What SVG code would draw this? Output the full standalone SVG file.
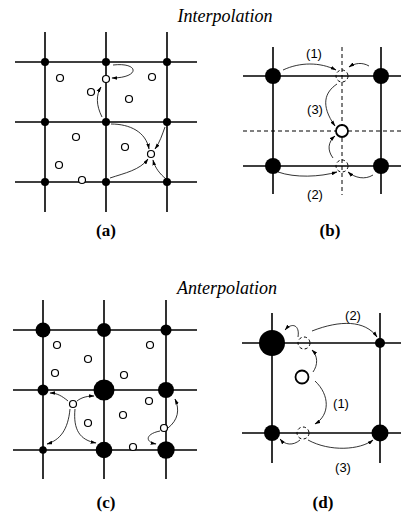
<svg xmlns="http://www.w3.org/2000/svg" width="401" height="514" viewBox="0 0 401 514">
  <style>
    .grid { stroke: #000; stroke-width: 1.6; fill: none; }
    .guide { stroke: #000; stroke-width: 1; stroke-dasharray: 4 3; fill: none; }
    .dot { fill: #000; }
    .pt { fill: #fff; stroke: #000; stroke-width: 1.2; }
    .pt2 { fill: #fff; stroke: #000; stroke-width: 1.8; }
    .ghost { fill: none; stroke: #000; stroke-width: 1; stroke-dasharray: 3 2.5; }
    .link { fill: none; stroke: #000; stroke-width: 0.8; marker-end: url(#tip); }
    .title { font-family: "Liberation Serif", "Times New Roman", serif; font-style: italic; font-size: 18px; text-anchor: middle; }
    .cap { font-family: "Liberation Serif", "Times New Roman", serif; font-weight: bold; font-size: 17px; text-anchor: middle; }
    .num { font-family: "Liberation Sans", Arial, sans-serif; font-size: 13px; text-anchor: middle; }
  </style>
  <defs>
    <marker id="tip" viewBox="0 0 10 6" refX="9" refY="3" markerWidth="6" markerHeight="4" markerUnits="userSpaceOnUse" orient="auto">
      <path d="M0,0 L10,3 L0,6 Z" fill="#000"/>
    </marker>
  </defs>

  <text class="title" x="225" y="22">Interpolation</text>
  <text class="title" x="227" y="294">Anterpolation</text>

  <!-- (a) fine grid interpolation -->
  <g id="panel-a">
    <path class="grid" d="M15,62H197M15,122H197M15,182H197M45,32V212M106,32V212M167,32V212"/>
    <g class="dot">
      <circle cx="45" cy="62" r="4"/><circle cx="106" cy="62" r="4"/><circle cx="167" cy="62" r="4"/>
      <circle cx="45" cy="122" r="4"/><circle cx="106" cy="122" r="4"/><circle cx="167" cy="122" r="4"/>
      <circle cx="45" cy="182" r="4"/><circle cx="106" cy="182" r="4"/><circle cx="167" cy="182" r="4"/>
    </g>
    <g>
      <circle class="pt" cx="60" cy="78" r="3.5"/><circle class="pt" cx="106" cy="79" r="3.5"/>
      <circle class="pt" cx="152" cy="77" r="3.5"/><circle class="pt" cx="91" cy="92" r="3.5"/>
      <circle class="pt" cx="129" cy="99" r="3.5"/><circle class="pt" cx="76" cy="137" r="3.5"/>
      <circle class="pt" cx="125" cy="147" r="3.5"/><circle class="pt" cx="151" cy="154" r="3.5"/>
      <circle class="pt" cx="59" cy="165" r="3.5"/><circle class="pt" cx="82" cy="180" r="3.5"/>
    </g>
    <text class="cap" x="106" y="236">(a)</text>
  </g>

  <!-- (b) one cell, interpolation in two steps -->
  <g id="panel-b">
    <path class="grid" d="M243,76H401M243,166H401M273,47V194M381,47V194"/>
    <path class="guide" d="M342,47V195M243,131H401"/>
    <g class="dot">
      <circle cx="273" cy="76" r="8"/><circle cx="381" cy="76" r="8"/>
      <circle cx="273" cy="166" r="8"/><circle cx="381" cy="166" r="8"/>
    </g>
    <circle class="ghost" cx="342" cy="76" r="6"/>
    <circle class="ghost" cx="342" cy="166" r="6"/>
    <circle class="pt2" cx="342" cy="131" r="6"/>
    <text class="num" x="314" y="58">(1)</text>
    <text class="num" x="315" y="114">(3)</text>
    <text class="num" x="315" y="199">(2)</text>
    <text class="cap" x="330" y="236">(b)</text>
  </g>

  <!-- (c) fine grid anterpolation -->
  <g id="panel-c">
    <path class="grid" d="M13,330H197M13,390H197M13,450H197M43,300V479M104,300V479M166,300V479"/>
    <g class="dot">
      <circle cx="43" cy="330" r="7.5"/><circle cx="104" cy="330" r="7"/><circle cx="166" cy="330" r="5.5"/>
      <circle cx="43" cy="390" r="5.5"/><circle cx="104" cy="390" r="10.5"/><circle cx="166" cy="390" r="8"/>
      <circle cx="43" cy="450" r="3.8"/><circle cx="104" cy="450" r="8.3"/><circle cx="166" cy="450" r="8.7"/>
    </g>
    <g>
      <circle class="pt" cx="57" cy="345" r="3.5"/><circle class="pt" cx="88" cy="359" r="3.5"/>
      <circle class="pt" cx="55" cy="373" r="3.5"/><circle class="pt" cx="150" cy="345" r="3.5"/>
      <circle class="pt" cx="124" cy="375" r="3.5"/><circle class="pt" cx="149" cy="401" r="3.5"/>
      <circle class="pt" cx="73" cy="404" r="3.5"/><circle class="pt" cx="123" cy="415" r="3.5"/>
      <circle class="pt" cx="88" cy="423" r="3.5"/><circle class="pt" cx="164" cy="428" r="3.5"/>
      <circle class="pt" cx="133" cy="447" r="3.5"/>
    </g>
    <text class="cap" x="106" y="508">(c)</text>
  </g>

  <!-- (d) one cell, anterpolation in two steps -->
  <g id="panel-d">
    <path class="grid" d="M242,343H401M242,433H401M272,313V463M380,313V463"/>
    <g class="dot">
      <circle cx="272" cy="343" r="13"/><circle cx="380" cy="343" r="5"/>
      <circle cx="272" cy="433" r="8"/><circle cx="380" cy="433" r="8.5"/>
    </g>
    <circle class="ghost" cx="304" cy="343" r="6"/>
    <circle class="ghost" cx="303" cy="433" r="6"/>
    <circle class="pt2" cx="302" cy="377" r="6.5"/>
    <text class="num" x="353" y="320">(2)</text>
    <text class="num" x="341" y="408">(1)</text>
    <text class="num" x="343" y="472">(3)</text>
    <text class="cap" x="323" y="508">(d)</text>
  </g>

  <g id="connectors">
    <!-- (a) -->
    <path class="link" d="M113,65 C140,62 140,78 112,78"/>
    <path class="link" d="M102,117 C96,105 96,95 101,87"/>
    <path class="link" d="M111,124 C130,124 146,132 149,149"/>
    <path class="link" d="M165,127 C162,135 160,142 155,149"/>
    <path class="link" d="M110,178 C125,173 140,170 148,159"/>
    <path class="link" d="M166,179 C160,174 155,168 153,160"/>
    <!-- (b) -->
    <path class="link" d="M283,70 C300,62 320,62 336,70"/>
    <path class="link" d="M369,66 C362,62 355,63 349,67"/>
    <path class="link" d="M337,84 C325,92 320,105 335,126"/>
    <path class="link" d="M333,158 C327,150 328,142 335,136"/>
    <path class="link" d="M278,172 C295,178 320,177 337,172"/>
    <path class="link" d="M373,175 C365,180 355,178 348,172"/>
    <!-- (c) -->
    <path class="link" d="M68,401 C62,396 57,393 50,393"/>
    <path class="link" d="M77,401 C82,397 88,396 94,396"/>
    <path class="link" d="M70,409 C68,430 60,440 47,444"/>
    <path class="link" d="M75,409 C73,430 80,440 96,443"/>
    <path class="link" d="M168,428 C178,420 180,410 175,399"/>
    <path class="link" d="M160,431 C145,434 145,442 156,444"/>
    <!-- (d) -->
    <path class="link" d="M298,337 C300,325 292,322 285,330"/>
    <path class="link" d="M312,331 C340,320 365,320 377,337"/>
    <path class="link" d="M313,372 C318,365 318,356 312,350"/>
    <path class="link" d="M315,381 C330,395 330,415 315,424"/>
    <path class="link" d="M300,440 C293,446 285,445 280,439"/>
    <path class="link" d="M308,440 C330,452 360,450 373,440"/>
  </g>
</svg>
